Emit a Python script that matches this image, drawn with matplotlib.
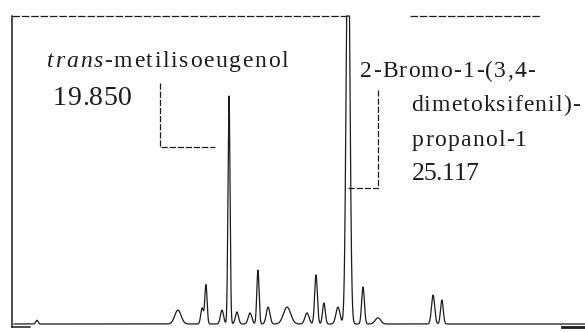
import numpy as np
import matplotlib
matplotlib.use("Agg")
import matplotlib.pyplot as plt

# Peak list: retention time (min), relative height (% full scale), width (min)
peak_times = [11.35, 17.59, 18.66, 18.83, 19.54, 19.850, 20.20, 20.78, 21.13, 21.58,
              22.42, 23.30, 23.70, 24.05, 24.67, 25.117, 25.78, 26.44, 28.88, 29.27]
peak_heights = [1.2, 4.5, 5.2, 12.7, 4.5, 74.0, 3.9, 3.6, 17.5, 5.5,
                5.5, 3.6, 15.9, 6.8, 5.5, 140.0, 12.0, 2.0, 9.4, 7.8]
peak_widths = [0.05, 0.14, 0.06, 0.05, 0.07, 0.045, 0.07, 0.08, 0.05, 0.08,
               0.16, 0.09, 0.06, 0.06, 0.09, 0.08, 0.06, 0.12, 0.07, 0.06]

label1_italic = "trans"
label1_name = "-metilisoeugenol"
label1_rt = "19.850"
label2_lines = ["2-Bromo-1-(3,4-", "dimetoksifenil)-", "propanol-1"]
label2_rt = "25.117"

# pixel -> data helpers (layout only)
PX_PER_MIN = 22.6
T0 = 19.85 - 229 / PX_PER_MIN
BASE_PX = 324.0
PX_PER_UNIT = 3.08

def tx(px):
    return T0 + px / PX_PER_MIN

def ty(py):
    return (BASE_PX - py) / PX_PER_UNIT

fig = plt.figure(figsize=(5.85, 3.32), dpi=100)
ax = fig.add_axes([0, 0, 1, 1])
ax.set_xlim(tx(0), tx(585))
ax.set_ylim(ty(332), ty(0))
ax.axis("off")
renderer = fig.canvas.get_renderer()

t = np.linspace(tx(14), tx(585), 30000)
sig = np.zeros_like(t)
for rt, h, w in zip(peak_times, peak_heights, peak_widths):
    sig += h * np.exp(-0.5 * ((t - rt) / w) ** 2)
sig = np.minimum(sig, ty(16))
col = "#1c1c1c"
ax.plot(t, sig, color=col, lw=0.9)

# frame of the recorder paper
ax.plot([tx(12), tx(12)], [ty(327), ty(16)], color=col, lw=1.1)
ax.plot([tx(12), tx(347)], [ty(16), ty(16)], color=col, lw=0.9, ls=(0, (6, 1.5)))
ax.plot([tx(410), tx(541)], [ty(16), ty(16)], color=col, lw=0.9, ls=(0, (6, 1.5)))
ax.plot([tx(12), tx(30)], [ty(327), ty(327)], color=col, lw=1.1)
ax.plot([tx(562), tx(585)], [ty(327), ty(327)], color=col, lw=2.0)

# annotation brackets
ax.plot([tx(160), tx(160), tx(215)], [ty(83), ty(147), ty(147)], color=col, lw=0.9,
        ls=(0, (5, 1.5)))
ax.plot([peak_times[15], tx(378), tx(378)], [ty(188), ty(188), ty(90)], color=col, lw=0.9,
        ls=(0, (5, 1.5)))

serif = ["Liberation Serif", "DejaVu Serif"]


def spaced_text(parts, x0_px, x1_px, y_px, size):
    """Draw letter-spaced text (scan-like tracking) fitted between x0_px and x1_px.
    parts: list of (string, style)."""
    chars = [(c, st) for s, st in parts for c in s]
    widths = []
    for c, st in chars:
        tmp = ax.text(0, 0, c, family=serif, style=st, fontsize=size)
        widths.append(tmp.get_window_extent(renderer).width)
        tmp.remove()
    natural = sum(widths)
    track = (x1_px - x0_px - natural) / max(len(chars) - 1, 1)
    x = x0_px
    for (c, st), w in zip(chars, widths):
        ax.text(tx(x), ty(y_px), c, family=serif, style=st, fontsize=size,
                ha="left", va="baseline", color=col)
        x += w + track


spaced_text([(label1_italic, "italic"), (label1_name, "normal")], 47, 288, 67, 17)
spaced_text([(label1_rt, "normal")], 53, 132, 105, 20)
spaced_text([(label2_lines[0], "normal")], 360, 535, 77, 17)
spaced_text([(label2_lines[1], "normal")], 411, 580, 111, 17)
spaced_text([(label2_lines[2], "normal")], 412, 527, 146, 17)
spaced_text([(label2_rt, "normal")], 412, 478, 180, 18.5)

fig.savefig("out.png", dpi=100)
